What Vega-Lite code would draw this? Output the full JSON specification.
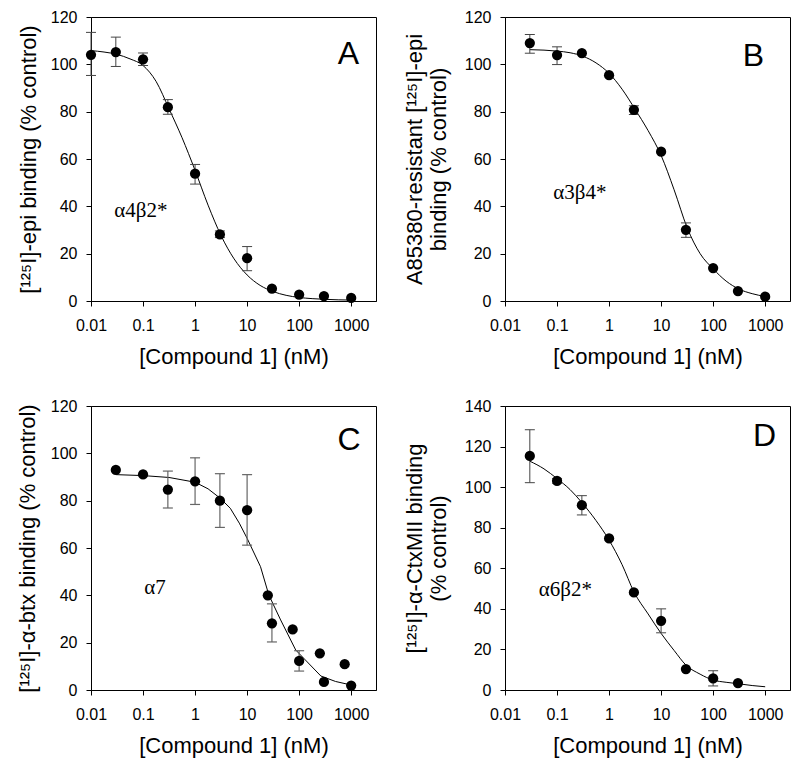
{
"$schema": "https://vega.github.io/schema/vega-lite/v6.json",
"padding": {"left": 15, "top": 8, "right": 5, "bottom": 5},
"datasets": {
"ann": [
{"panel":"A","kind":"letter","label":"A","conc":887,"pct":104.4},
{"panel":"A","kind":"subunit","label":"α4β2*","conc":0.091,"pct":38.1},
{"panel":"B","kind":"letter","label":"B","conc":594,"pct":103.7},
{"panel":"B","kind":"subunit","label":"α3β4*","conc":0.274,"pct":45.8},
{"panel":"C","kind":"letter","label":"C","conc":912,"pct":105.7},
{"panel":"C","kind":"subunit","label":"α7","conc":0.17,"pct":43.1},
{"panel":"D","kind":"letter","label":"D","conc":977,"pct":125.2},
{"panel":"D","kind":"subunit","label":"α6β2*","conc":0.145,"pct":49.1}
],
"pts": [
{"panel":"A","conc":0.01,"pct":104.0,"lo":95.3,"hi":113.5},
{"panel":"A","conc":0.03,"pct":105.2,"lo":99.1,"hi":111.5},
{"panel":"A","conc":0.1,"pct":102.1,"lo":99.5,"hi":104.8},
{"panel":"A","conc":0.3,"pct":81.9,"lo":78.9,"hi":85.1},
{"panel":"A","conc":1,"pct":53.8,"lo":49.4,"hi":57.7},
{"panel":"A","conc":3,"pct":28.1,"lo":26.8,"hi":29.6},
{"panel":"A","conc":10,"pct":18.1,"lo":12.8,"hi":23.0},
{"panel":"A","conc":30,"pct":5.2,"lo":null,"hi":null},
{"panel":"A","conc":100,"pct":2.7,"lo":null,"hi":null},
{"panel":"A","conc":300,"pct":2.1,"lo":null,"hi":null},
{"panel":"A","conc":1000,"pct":1.3,"lo":null,"hi":null},
{"panel":"B","conc":0.03,"pct":109.0,"lo":104.7,"hi":112.6},
{"panel":"B","conc":0.1,"pct":103.9,"lo":99.9,"hi":107.4},
{"panel":"B","conc":0.3,"pct":104.7,"lo":null,"hi":null},
{"panel":"B","conc":1,"pct":95.4,"lo":null,"hi":null},
{"panel":"B","conc":3,"pct":80.8,"lo":78.8,"hi":82.5},
{"panel":"B","conc":10,"pct":63.1,"lo":null,"hi":null},
{"panel":"B","conc":30,"pct":30.1,"lo":26.9,"hi":33.0},
{"panel":"B","conc":100,"pct":13.9,"lo":null,"hi":null},
{"panel":"B","conc":300,"pct":4.2,"lo":null,"hi":null},
{"panel":"B","conc":1000,"pct":1.8,"lo":null,"hi":null},
{"panel":"C","conc":0.03,"pct":93.0,"lo":null,"hi":null},
{"panel":"C","conc":0.1,"pct":91.1,"lo":null,"hi":null},
{"panel":"C","conc":0.3,"pct":84.7,"lo":76.9,"hi":92.5},
{"panel":"C","conc":1,"pct":88.2,"lo":78.4,"hi":98.1},
{"panel":"C","conc":3,"pct":80.0,"lo":68.7,"hi":91.4},
{"panel":"C","conc":10,"pct":76.0,"lo":61.2,"hi":91.0},
{"panel":"C","conc":25,"pct":40.0,"lo":null,"hi":null},
{"panel":"C","conc":30,"pct":28.2,"lo":20.3,"hi":36.4},
{"panel":"C","conc":75,"pct":25.6,"lo":null,"hi":null},
{"panel":"C","conc":100,"pct":12.3,"lo":8.0,"hi":16.6},
{"panel":"C","conc":250,"pct":15.5,"lo":null,"hi":null},
{"panel":"C","conc":300,"pct":3.4,"lo":null,"hi":null},
{"panel":"C","conc":750,"pct":10.9,"lo":null,"hi":null},
{"panel":"C","conc":1000,"pct":1.9,"lo":null,"hi":null},
{"panel":"D","conc":0.03,"pct":115.4,"lo":102.2,"hi":128.3},
{"panel":"D","conc":0.1,"pct":103.1,"lo":101.9,"hi":104.3},
{"panel":"D","conc":0.3,"pct":91.1,"lo":86.3,"hi":95.8},
{"panel":"D","conc":1,"pct":74.7,"lo":null,"hi":null},
{"panel":"D","conc":3,"pct":48.1,"lo":null,"hi":null},
{"panel":"D","conc":10,"pct":34.1,"lo":28.2,"hi":40.0},
{"panel":"D","conc":30,"pct":10.3,"lo":null,"hi":null},
{"panel":"D","conc":100,"pct":5.7,"lo":2.0,"hi":9.5},
{"panel":"D","conc":300,"pct":3.4,"lo":null,"hi":null}
],
"fit": [
{"panel":"A","conc":0.01,"pct":105.8},
{"panel":"A","conc":0.0178,"pct":105.2},
{"panel":"A","conc":0.0316,"pct":104.2},
{"panel":"A","conc":0.0562,"pct":102.3},
{"panel":"A","conc":0.1,"pct":99.5},
{"panel":"A","conc":0.178,"pct":92.8},
{"panel":"A","conc":0.316,"pct":81.2},
{"panel":"A","conc":0.562,"pct":69.0},
{"panel":"A","conc":1,"pct":55.2},
{"panel":"A","conc":1.778,"pct":40.5},
{"panel":"A","conc":3.162,"pct":27.6},
{"panel":"A","conc":5.623,"pct":17.8},
{"panel":"A","conc":10,"pct":11.0},
{"panel":"A","conc":17.78,"pct":6.6},
{"panel":"A","conc":31.62,"pct":4.0},
{"panel":"A","conc":56.23,"pct":2.4},
{"panel":"A","conc":100,"pct":1.5},
{"panel":"A","conc":177.8,"pct":1.0},
{"panel":"A","conc":316.2,"pct":0.7},
{"panel":"A","conc":562.3,"pct":0.5},
{"panel":"A","conc":1000,"pct":0.4},
{"panel":"B","conc":0.03,"pct":106.2},
{"panel":"B","conc":0.0562,"pct":106.0},
{"panel":"B","conc":0.1,"pct":105.6},
{"panel":"B","conc":0.178,"pct":104.9},
{"panel":"B","conc":0.316,"pct":103.4},
{"panel":"B","conc":0.562,"pct":100.6},
{"panel":"B","conc":1,"pct":96.2},
{"panel":"B","conc":1.778,"pct":89.5},
{"panel":"B","conc":3.162,"pct":81.0},
{"panel":"B","conc":5.623,"pct":72.0},
{"panel":"B","conc":10,"pct":61.5},
{"panel":"B","conc":17.78,"pct":47.0},
{"panel":"B","conc":31.62,"pct":31.0},
{"panel":"B","conc":56.23,"pct":20.0},
{"panel":"B","conc":100,"pct":13.6},
{"panel":"B","conc":177.8,"pct":8.4},
{"panel":"B","conc":316.2,"pct":5.0},
{"panel":"B","conc":562.3,"pct":3.1},
{"panel":"B","conc":1000,"pct":1.9},
{"panel":"C","conc":0.03,"pct":91.0},
{"panel":"C","conc":0.1,"pct":90.6},
{"panel":"C","conc":0.316,"pct":89.8},
{"panel":"C","conc":1,"pct":87.8},
{"panel":"C","conc":1.778,"pct":85.0},
{"panel":"C","conc":3.05,"pct":81.0},
{"panel":"C","conc":4.75,"pct":76.8},
{"panel":"C","conc":7.08,"pct":70.5},
{"panel":"C","conc":10,"pct":64.1},
{"panel":"C","conc":18.1,"pct":52.1},
{"panel":"C","conc":26.2,"pct":40.1},
{"panel":"C","conc":44.1,"pct":29.6},
{"panel":"C","conc":85.9,"pct":16.9},
{"panel":"C","conc":262,"pct":5.9},
{"panel":"C","conc":501,"pct":3.6},
{"panel":"C","conc":1000,"pct":2.1},
{"panel":"D","conc":0.03,"pct":112.8},
{"panel":"D","conc":0.0562,"pct":109.0},
{"panel":"D","conc":0.1,"pct":104.2},
{"panel":"D","conc":0.178,"pct":98.8},
{"panel":"D","conc":0.3,"pct":92.4},
{"panel":"D","conc":0.562,"pct":83.5},
{"panel":"D","conc":1,"pct":73.9},
{"panel":"D","conc":1.778,"pct":61.8},
{"panel":"D","conc":3,"pct":48.4},
{"panel":"D","conc":5.623,"pct":37.5},
{"panel":"D","conc":10,"pct":27.9},
{"panel":"D","conc":17.78,"pct":19.5},
{"panel":"D","conc":30,"pct":12.3},
{"panel":"D","conc":56.23,"pct":7.8},
{"panel":"D","conc":100,"pct":4.9},
{"panel":"D","conc":177.8,"pct":3.8},
{"panel":"D","conc":300,"pct":3.1},
{"panel":"D","conc":562.3,"pct":2.2},
{"panel":"D","conc":1000,"pct":1.6}
]
},
"columns": 2,
"spacing": {"row": 29, "column": 25},
"concat": [
{
"width": 285, "height": 284,
"encoding": {
"x": {"field":"conc","type":"quantitative","scale":{"type":"log","domain":[0.01,3000],"nice":false},"axis":{"values":[0.01,0.1,1,10,100,1000],"format":"~g","title":"[Compound 1] (nM)"}},
"y": {"field":"pct","type":"quantitative","scale":{"domain":[0,120],"nice":false},"axis":{"values":[0,20,40,60,80,100,120],"title":"[¹²⁵I]-epi binding (% control)","titlePadding":10}}
},
"layer": [
{"data":{"name":"fit"},"transform":[{"filter":"datum.panel==='A'"}],"mark":{"type":"line","color":"black","strokeWidth":1,"interpolate":"monotone"}},
{"data":{"name":"pts"},"transform":[{"filter":"datum.panel==='A' && isValid(datum.lo)"}],"mark":{"type":"rule","color":"#444","strokeWidth":1},"encoding":{"y":{"field":"lo","type":"quantitative"},"y2":{"field":"hi"}}},
{"data":{"name":"pts"},"transform":[{"filter":"datum.panel==='A' && isValid(datum.lo)"}],"mark":{"type":"tick","orient":"horizontal","size":10,"thickness":1,"color":"#444","opacity":1},"encoding":{"y":{"field":"lo","type":"quantitative"}}},
{"data":{"name":"pts"},"transform":[{"filter":"datum.panel==='A' && isValid(datum.lo)"}],"mark":{"type":"tick","orient":"horizontal","size":10,"thickness":1,"color":"#444","opacity":1},"encoding":{"y":{"field":"hi","type":"quantitative"}}},
{"data":{"name":"pts"},"transform":[{"filter":"datum.panel==='A'"}],"mark":{"type":"circle","size":105,"color":"black","opacity":1}},
{"data":{"name":"ann"},"transform":[{"filter":"datum.panel==='A' && datum.kind==='letter'"}],"mark":{"type":"text","fontSize":32,"font":"Liberation Sans","color":"black","baseline":"middle","align":"center"},"encoding":{"text":{"field":"label"}}},
{"data":{"name":"ann"},"transform":[{"filter":"datum.panel==='A' && datum.kind==='subunit'"}],"mark":{"type":"text","fontSize":21,"font":"Liberation Serif","color":"black","baseline":"middle","align":"center"},"encoding":{"text":{"field":"label"}}}
]
},
{
"width": 285, "height": 284,
"encoding": {
"x": {"field":"conc","type":"quantitative","scale":{"type":"log","domain":[0.01,3000],"nice":false},"axis":{"values":[0.01,0.1,1,10,100,1000],"format":"~g","title":"[Compound 1] (nM)"}},
"y": {"field":"pct","type":"quantitative","scale":{"domain":[0,120],"nice":false},"axis":{"values":[0,20,40,60,80,100,120],"title":["A85380-resistant [¹²⁵I]-epi","binding (% control)"],"titlePadding":14}}
},
"layer": [
{"data":{"name":"fit"},"transform":[{"filter":"datum.panel==='B'"}],"mark":{"type":"line","color":"black","strokeWidth":1,"interpolate":"monotone"}},
{"data":{"name":"pts"},"transform":[{"filter":"datum.panel==='B' && isValid(datum.lo)"}],"mark":{"type":"rule","color":"#444","strokeWidth":1},"encoding":{"y":{"field":"lo","type":"quantitative"},"y2":{"field":"hi"}}},
{"data":{"name":"pts"},"transform":[{"filter":"datum.panel==='B' && isValid(datum.lo)"}],"mark":{"type":"tick","orient":"horizontal","size":10,"thickness":1,"color":"#444","opacity":1},"encoding":{"y":{"field":"lo","type":"quantitative"}}},
{"data":{"name":"pts"},"transform":[{"filter":"datum.panel==='B' && isValid(datum.lo)"}],"mark":{"type":"tick","orient":"horizontal","size":10,"thickness":1,"color":"#444","opacity":1},"encoding":{"y":{"field":"hi","type":"quantitative"}}},
{"data":{"name":"pts"},"transform":[{"filter":"datum.panel==='B'"}],"mark":{"type":"circle","size":105,"color":"black","opacity":1}},
{"data":{"name":"ann"},"transform":[{"filter":"datum.panel==='B' && datum.kind==='letter'"}],"mark":{"type":"text","fontSize":32,"font":"Liberation Sans","color":"black","baseline":"middle","align":"center"},"encoding":{"text":{"field":"label"}}},
{"data":{"name":"ann"},"transform":[{"filter":"datum.panel==='B' && datum.kind==='subunit'"}],"mark":{"type":"text","fontSize":21,"font":"Liberation Serif","color":"black","baseline":"middle","align":"center"},"encoding":{"text":{"field":"label"}}}
]
},
{
"width": 285, "height": 284,
"encoding": {
"x": {"field":"conc","type":"quantitative","scale":{"type":"log","domain":[0.01,3000],"nice":false},"axis":{"values":[0.01,0.1,1,10,100,1000],"format":"~g","title":"[Compound 1] (nM)"}},
"y": {"field":"pct","type":"quantitative","scale":{"domain":[0,120],"nice":false},"axis":{"values":[0,20,40,60,80,100,120],"title":"[¹²⁵I]-α-btx binding (% control)","titlePadding":11}}
},
"layer": [
{"data":{"name":"fit"},"transform":[{"filter":"datum.panel==='C'"}],"mark":{"type":"line","color":"black","strokeWidth":1}},
{"data":{"name":"pts"},"transform":[{"filter":"datum.panel==='C' && isValid(datum.lo)"}],"mark":{"type":"rule","color":"#666","strokeWidth":1.2},"encoding":{"y":{"field":"lo","type":"quantitative"},"y2":{"field":"hi"}}},
{"data":{"name":"pts"},"transform":[{"filter":"datum.panel==='C' && isValid(datum.lo)"}],"mark":{"type":"tick","orient":"horizontal","size":10,"thickness":1.2,"color":"#666","opacity":1},"encoding":{"y":{"field":"lo","type":"quantitative"}}},
{"data":{"name":"pts"},"transform":[{"filter":"datum.panel==='C' && isValid(datum.lo)"}],"mark":{"type":"tick","orient":"horizontal","size":10,"thickness":1.2,"color":"#666","opacity":1},"encoding":{"y":{"field":"hi","type":"quantitative"}}},
{"data":{"name":"pts"},"transform":[{"filter":"datum.panel==='C'"}],"mark":{"type":"circle","size":105,"color":"black","opacity":1}},
{"data":{"name":"ann"},"transform":[{"filter":"datum.panel==='C' && datum.kind==='letter'"}],"mark":{"type":"text","fontSize":32,"font":"Liberation Sans","color":"black","baseline":"middle","align":"center"},"encoding":{"text":{"field":"label"}}},
{"data":{"name":"ann"},"transform":[{"filter":"datum.panel==='C' && datum.kind==='subunit'"}],"mark":{"type":"text","fontSize":21,"font":"Liberation Serif","color":"black","baseline":"middle","align":"center"},"encoding":{"text":{"field":"label"}}}
]
},
{
"width": 285, "height": 284,
"encoding": {
"x": {"field":"conc","type":"quantitative","scale":{"type":"log","domain":[0.01,3000],"nice":false},"axis":{"values":[0.01,0.1,1,10,100,1000],"format":"~g","title":"[Compound 1] (nM)"}},
"y": {"field":"pct","type":"quantitative","scale":{"domain":[0,140],"nice":false},"axis":{"values":[0,20,40,60,80,100,120,140],"title":["[¹²⁵I]-α-CtxMII binding","(% control)"],"titlePadding":14}}
},
"layer": [
{"data":{"name":"fit"},"transform":[{"filter":"datum.panel==='D'"}],"mark":{"type":"line","color":"black","strokeWidth":1,"interpolate":"monotone"}},
{"data":{"name":"pts"},"transform":[{"filter":"datum.panel==='D' && isValid(datum.lo)"}],"mark":{"type":"rule","color":"#444","strokeWidth":1},"encoding":{"y":{"field":"lo","type":"quantitative"},"y2":{"field":"hi"}}},
{"data":{"name":"pts"},"transform":[{"filter":"datum.panel==='D' && isValid(datum.lo)"}],"mark":{"type":"tick","orient":"horizontal","size":10,"thickness":1,"color":"#444","opacity":1},"encoding":{"y":{"field":"lo","type":"quantitative"}}},
{"data":{"name":"pts"},"transform":[{"filter":"datum.panel==='D' && isValid(datum.lo)"}],"mark":{"type":"tick","orient":"horizontal","size":10,"thickness":1,"color":"#444","opacity":1},"encoding":{"y":{"field":"hi","type":"quantitative"}}},
{"data":{"name":"pts"},"transform":[{"filter":"datum.panel==='D'"}],"mark":{"type":"circle","size":105,"color":"black","opacity":1}},
{"data":{"name":"ann"},"transform":[{"filter":"datum.panel==='D' && datum.kind==='letter'"}],"mark":{"type":"text","fontSize":32,"font":"Liberation Sans","color":"black","baseline":"middle","align":"center"},"encoding":{"text":{"field":"label"}}},
{"data":{"name":"ann"},"transform":[{"filter":"datum.panel==='D' && datum.kind==='subunit'"}],"mark":{"type":"text","fontSize":21,"font":"Liberation Serif","color":"black","baseline":"middle","align":"center"},"encoding":{"text":{"field":"label"}}}
]
}
],
"config": {
"view": {"stroke": "black", "strokeWidth": 1},
"axis": {"grid": false, "domainColor": "black", "tickColor": "black", "labelColor": "black", "titleColor": "black", "labelFont": "Liberation Sans", "titleFont": "Liberation Sans", "labelFontSize": 16, "titleFontSize": 22, "titleFontWeight": "normal", "tickSize": 5, "labelFlush": false, "labelOverlap": false},
"axisX": {"labelPadding": 11, "titlePadding": 13},
"axisY": {"labelPadding": 9}
}
}
